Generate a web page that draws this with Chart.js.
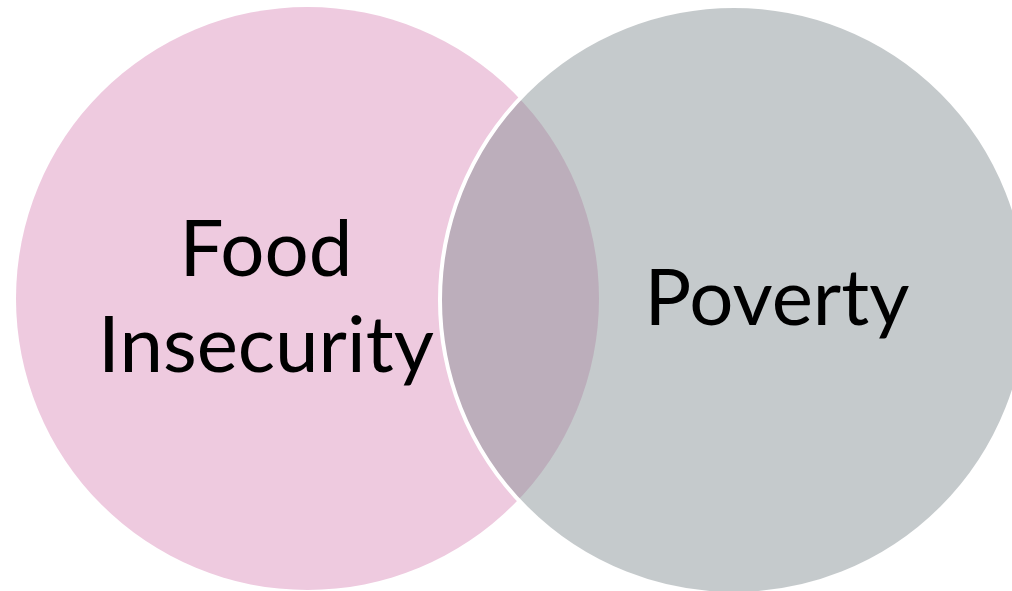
<!DOCTYPE html>
<html><head><meta charset="utf-8">
<script src="https://cdn.jsdelivr.net/npm/chart.js@4/dist/chart.umd.min.js"></script>
<style>html,body{margin:0;padding:0;background:#fff;}canvas{display:block;}</style>
</head><body>
<canvas id="c" width="1012" height="591"></canvas>
<script>
// Venn sets
const categories = ['Food Insecurity', 'Poverty'];
const centerX = [307.5, 734];
const centerY = [298.5, 300];
const radius = [291.5, 294];
const labelLines = [['Food', 'Insecurity'], ['Poverty']];

const fills = ['rgb(238,202,223)', 'rgba(134,145,149,0.48)'];
const borders = ['rgba(0,0,0,0)', '#ffffff'];
const borderW = [0, 4];
const drawOrder = [1, 0]; // lower order is drawn on top
const labelAnchor = [[266, 276], [777, 325]];
const lineGap = 96;

const labelPlugin = {
  id: 'vennLabels',
  afterDatasetsDraw(chart) {
    const ctx = chart.ctx, xs = chart.scales.x, ys = chart.scales.y;
    ctx.save();
    ctx.fillStyle = '#000';
    ctx.textAlign = 'center';
    ctx.textBaseline = 'alphabetic';
    ctx.font = '78px Lato';
    labelLines.forEach((lines, i) => {
      lines.forEach((t, j) => {
        const px = xs.getPixelForValue(labelAnchor[i][0]);
        const py = ys.getPixelForValue(labelAnchor[i][1] + j * lineGap);
        ctx.fillText(t, px, py);
      });
    });
    ctx.restore();
  }
};

new Chart(document.getElementById('c'), {
  type: 'bubble',
  data: {
    datasets: categories.map((name, i) => ({
      label: name,
      data: [{ x: centerX[i], y: centerY[i], r: radius[i] }],
      backgroundColor: fills[i],
      borderColor: borders[i],
      borderWidth: borderW[i],
      hoverBorderWidth: borderW[i],
      order: drawOrder[i],
      clip: false
    }))
  },
  options: {
    responsive: false,
    animation: false,
    events: [],
    layout: { padding: 0, autoPadding: false },
    plugins: { legend: { display: false }, tooltip: { enabled: false } },
    scales: {
      x: { type: 'linear', min: 0, max: 1012, display: false },
      y: { type: 'linear', min: 0, max: 591, reverse: true, display: false }
    }
  },
  plugins: [labelPlugin]
});
</script>
</body></html>
